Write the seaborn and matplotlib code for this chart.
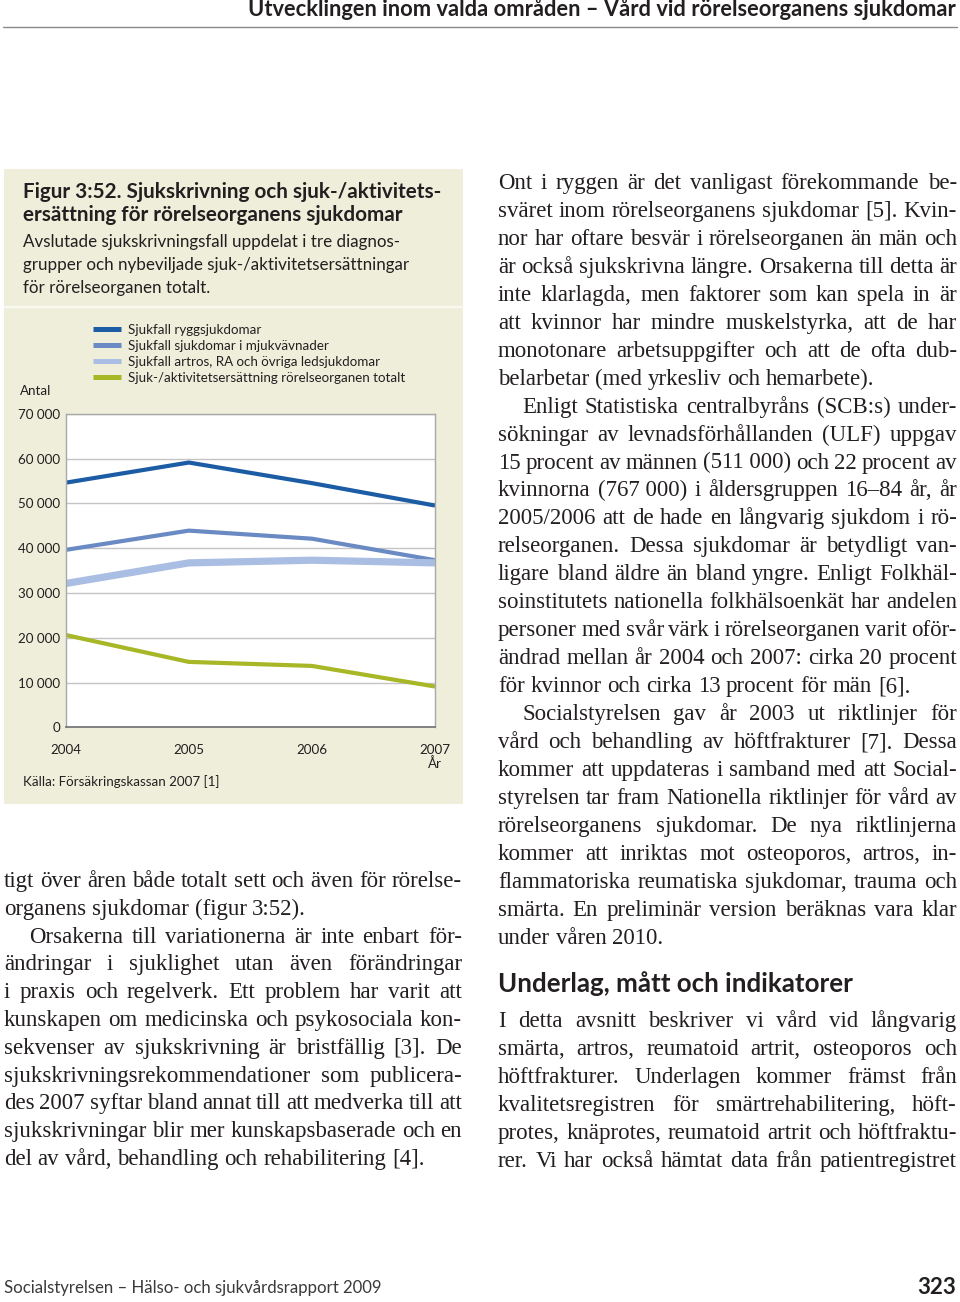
import matplotlib
matplotlib.use("Agg")
import matplotlib.pyplot as plt
import seaborn as sns
import pandas as pd
import numpy as np
from matplotlib.lines import Line2D
from matplotlib.patches import Rectangle

# ---------------- data ----------------
years = [2004, 2005, 2006, 2007]
ryggsjukdomar = [54600, 59100, 54500, 49500]
mjukvavnader = [39600, 43900, 42100, 37300]
artros_ra = [32100, 36700, 37300, 36700]
sjuk_aktivitet = [20600, 14600, 13700, 9100]
series_names = [
    "Sjukfall ryggsjukdomar",
    "Sjukfall sjukdomar i mjukvävnader",
    "Sjukfall artros, RA och övriga ledsjukdomar",
    "Sjuk-/aktivitetsersättning rörelseorganen totalt",
]
ytick_values = [0, 10000, 20000, 30000, 40000, 50000, 60000, 70000]
ytick_labels = ["0", "10 000", "20 000", "30 000", "40 000", "50 000", "60 000", "70 000"]
xtick_labels = ["2004", "2005", "2006", "2007"]

colors = ["#1b5ca5", "#6a8ac4", "#aabde2", "#a7b726"]
widths = [3.0, 3.0, 5.2, 3.0]

# ---------------- figure ----------------
sns.set_style("white")
plt.rcParams['font.family'] = ['Lato', 'DejaVu Sans']

W, H = 960, 1302
fig = plt.figure(figsize=(W / 100, H / 100), dpi=100)
fig.patch.set_facecolor("white")
R = fig.canvas.get_renderer()

def fx(x):
    return x / W

def fy(y):
    return 1 - y / H

def measure(s, size, **kw):
    t = fig.text(0, 0, s, fontsize=size, **kw)
    w = t.get_window_extent(R).width
    t.remove()
    return w

def fit(s, width, **kw):
    return 10 * width / measure(s, 10, **kw)

TXT = "#231f20"
SANS = ['Lato', 'DejaVu Sans']
SERIF = ['Liberation Serif', 'DejaVu Serif']

# header
hsize = fit("Utvecklingen inom valda områden – Vård vid rörelseorganens sjukdomar", 710,
            family=SANS, fontweight='bold')
fig.text(fx(956), fy(9), "Utvecklingen inom valda områden – Vård vid rörelseorganens sjukdomar",
         ha='right', va='center', fontsize=hsize, fontweight='bold', family=SANS, color=TXT)
fig.add_artist(Line2D([fx(3), fx(957)], [fy(27), fy(27)], transform=fig.transFigure,
                      color="#8a8a8a", lw=1))

# footer
fsize = fit("Socialstyrelsen – Hälso- och sjukvårdsrapport 2009", 377, family=SANS)
fig.text(fx(4), fy(1288), "Socialstyrelsen – Hälso- och sjukvårdsrapport 2009", ha='left', va='center',
         fontsize=fsize, family=SANS, color="#3a3a3a")
fig.text(fx(956), fy(1288), "323", ha='right', va='center', fontsize=hsize * 1.02,
         fontweight='bold', family=SANS, color=TXT)

# panel
PANEL = "#eeeedb"
fig.add_artist(Rectangle((fx(4), fy(804)), fx(463) - fx(4), fy(169) - fy(804),
                         transform=fig.transFigure, facecolor=PANEL, edgecolor='none', zorder=-5))
fig.add_artist(Line2D([fx(4), fx(463)], [fy(307), fy(307)], transform=fig.transFigure,
                      color="#f9f9f0", lw=1.6))

# titles
tsize = fit("Figur 3:52. Sjukskrivning och sjuk-/aktivitets-", 417, family=SANS, fontweight='bold')
fig.text(fx(23), fy(192), "Figur 3:52. Sjukskrivning och sjuk-/aktivitets-", ha='left', va='center',
         fontsize=tsize, fontweight='bold', family=SANS, color=TXT)
fig.text(fx(23), fy(215), "ersättning för rörelseorganens sjukdomar", ha='left', va='center',
         fontsize=tsize, fontweight='bold', family=SANS, color=TXT)
ssize = fit("grupper och nybeviljade sjuk-/aktivitetsersättningar", 387, family=SANS)
for yy, s in [(242, "Avslutade sjukskrivningsfall uppdelat i tre diagnos-"),
              (265, "grupper och nybeviljade sjuk-/aktivitetsersättningar"),
              (288, "för rörelseorganen totalt.")]:
    fig.text(fx(23), fy(yy), s, ha='left', va='center', fontsize=ssize, family=SANS, color=TXT)

# ---------------- chart ----------------
small = fit(series_names[3], 277, family=SANS)
ax = fig.add_axes([fx(65.7), fy(727.3), (435 - 65.7) / W, (727.3 - 413.7) / H])
ax.set_facecolor("white")
for name, vals, c, lw in zip(series_names, [ryggsjukdomar, mjukvavnader, artros_ra, sjuk_aktivitet],
                             colors, widths):
    df = pd.DataFrame({"År": years, "Antal": vals})
    sns.lineplot(data=df, x="År", y="Antal", ax=ax, color=c, linewidth=lw, legend=False,
                 solid_joinstyle='miter', solid_capstyle='butt')
ax.set_xlim(2004, 2007)
ax.set_ylim(0, 70000)
ax.set_xlabel("")
ax.set_ylabel("")
ax.set_xticks(years)
ax.set_xticklabels(xtick_labels)
ax.set_yticks(ytick_values)
ax.set_yticklabels(ytick_labels)
ax.yaxis.grid(True, color="#c4c4c4", lw=1)
ax.xaxis.grid(False)
ax.set_axisbelow(True)
for side in ["left", "top", "right"]:
    ax.spines[side].set_color("#a8a8a8")
    ax.spines[side].set_linewidth(1)
ax.spines["bottom"].set_color("#6e6e6e")
ax.spines["bottom"].set_linewidth(1.2)
ax.tick_params(axis='x', length=5, width=1, color="#6e6e6e", pad=7, labelsize=small, labelcolor=TXT)
ax.tick_params(axis='y', length=0, pad=4, labelsize=small, labelcolor=TXT)

pxpt = small * 100 / 72
handles = [Line2D([], [], color=c, lw=3.6, solid_capstyle='butt') for c in colors]
ax.legend(handles, series_names, loc='upper left', bbox_to_anchor=(fx(93), fy(323.5)),
          bbox_transform=fig.transFigure, frameon=False, fontsize=small,
          handlelength=28 / pxpt, handletextpad=7 / pxpt, borderpad=0, borderaxespad=0,
          labelspacing=0.31, labelcolor=TXT)

fig.text(fx(20), fy(391), "Antal", ha='left', va='center', fontsize=small, family=SANS, color=TXT)
fig.text(fx(435), fy(764), "År", ha='center', va='center', fontsize=small, family=SANS, color=TXT)
fig.text(fx(23), fy(782), "Källa: Försäkringskassan 2007 [1]", ha='left', va='center',
         fontsize=small, family=SANS, color=TXT)

# ---------------- body text ----------------
cands = ["nor har oftare besvär i rörelseorganen än män och",
         "är också sjukskrivna längre. Orsakerna till detta är",
         "ligare bland äldre än bland yngre. Enligt Folkhäl-",
         "personer med svår värk i rörelseorganen varit oför-",
         "des 2007 syftar bland annat till att medverka till att",
         "protes, knäprotes, reumatoid artrit och höftfraktu-"]
bsize = float(np.median([fit(s, 459, family=SERIF) for s in cands]))
NB = "\u00a0"
SPACE = measure("a b", bsize, family=SERIF) - measure("ab", bsize, family=SERIF)

def draw_line(s, x0, x1, y, justify, indent=0):
    words = s.split(" ")
    texts = [fig.text(0, fy(y), w, fontsize=bsize, family=SERIF, color=TXT,
                      ha='left', va='baseline') for w in words]
    ws = [t.get_window_extent(R).width for t in texts]
    start = x0 + indent
    if justify and len(words) > 1:
        gap = (x1 - start - sum(ws)) / (len(words) - 1)
        gap = max(gap, 0.6 * SPACE)
    else:
        gap = SPACE
    x = start
    for t, w in zip(texts, ws):
        t.set_x(fx(x))
        x += w + gap

left_lines = [
    ("tigt över åren både totalt sett och även för rörelse-", True, 0),
    ("organens sjukdomar (figur 3:52).", False, 0),
    ("Orsakerna till variationerna är inte enbart för-", True, 25),
    ("ändringar i sjuklighet utan även förändringar", True, 0),
    ("i praxis och regelverk. Ett problem har varit att", True, 0),
    ("kunskapen om medicinska och psykosociala kon-", True, 0),
    ("sekvenser av sjukskrivning är bristfällig [3]. De", True, 0),
    ("sjukskrivningsrekommendationer som publicera-", True, 0),
    ("des 2007 syftar bland annat till att medverka till att", True, 0),
    ("sjukskrivningar blir mer kunskapsbaserade och en", True, 0),
    ("del av vård, behandling och rehabilitering [4].", False, 0),
]
for i, (s, j, ind) in enumerate(left_lines):
    draw_line(s, 4, 462, 887 + 27.8 * i, j, ind)

right_lines = [
    ("Ont i ryggen är det vanligast förekommande be-", True, 0),
    ("sväret inom rörelseorganens sjukdomar [5]. Kvin-", True, 0),
    ("nor har oftare besvär i rörelseorganen än män och", True, 0),
    ("är också sjukskrivna längre. Orsakerna till detta är", True, 0),
    ("inte klarlagda, men faktorer som kan spela in är", True, 0),
    ("att kvinnor har mindre muskelstyrka, att de har", True, 0),
    ("monotonare arbetsuppgifter och att de ofta dub-", True, 0),
    ("belarbetar (med yrkesliv och hemarbete).", False, 0),
    ("Enligt Statistiska centralbyråns (SCB:s) under-", True, 24),
    ("sökningar av levnadsförhållanden (ULF) uppgav", True, 0),
    ("15 procent av männen (511" + NB + "000) och 22 procent av", True, 0),
    ("kvinnorna (767" + NB + "000) i åldersgruppen 16–84 år, år", True, 0),
    ("2005/2006 att de hade en långvarig sjukdom i rö-", True, 0),
    ("relseorganen. Dessa sjukdomar är betydligt van-", True, 0),
    ("ligare bland äldre än bland yngre. Enligt Folkhäl-", True, 0),
    ("soinstitutets nationella folkhälsoenkät har andelen", True, 0),
    ("personer med svår värk i rörelseorganen varit oför-", True, 0),
    ("ändrad mellan år 2004 och 2007: cirka 20 procent", True, 0),
    ("för kvinnor och cirka 13 procent för män [6].", False, 0),
    ("Socialstyrelsen gav år 2003 ut riktlinjer för", True, 24),
    ("vård och behandling av höftfrakturer [7]. Dessa", True, 0),
    ("kommer att uppdateras i samband med att Social-", True, 0),
    ("styrelsen tar fram Nationella riktlinjer för vård av", True, 0),
    ("rörelseorganens sjukdomar. De nya riktlinjerna", True, 0),
    ("kommer att inriktas mot osteoporos, artros, in-", True, 0),
    ("flammatoriska reumatiska sjukdomar, trauma och", True, 0),
    ("smärta. En preliminär version beräknas vara klar", True, 0),
    ("under våren 2010.", False, 0),
]
for i, (s, j, ind) in enumerate(right_lines):
    draw_line(s, 498, 957, 189 + 27.95 * i, j, ind)

hdsize = fit("Underlag, mått och indikatorer", 354, family=SANS, fontweight='bold')
fig.text(fx(498), fy(984), "Underlag, mått och indikatorer", ha='left', va='center',
         fontsize=hdsize, fontweight='bold', family=SANS, color=TXT)

right_lines2 = [
    ("I detta avsnitt beskriver vi vård vid långvarig", True, 0),
    ("smärta, artros, reumatoid artrit, osteoporos och", True, 0),
    ("höftfrakturer. Underlagen kommer främst från", True, 0),
    ("kvalitetsregistren för smärtrehabilitering, höft-", True, 0),
    ("protes, knäprotes, reumatoid artrit och höftfraktu-", True, 0),
    ("rer. Vi har också hämtat data från patientregistret", True, 0),
]
for i, (s, j, ind) in enumerate(right_lines2):
    draw_line(s, 498, 957, 1027 + 28 * i, j, ind)

fig.savefig("out.png", dpi=100, facecolor="white")
